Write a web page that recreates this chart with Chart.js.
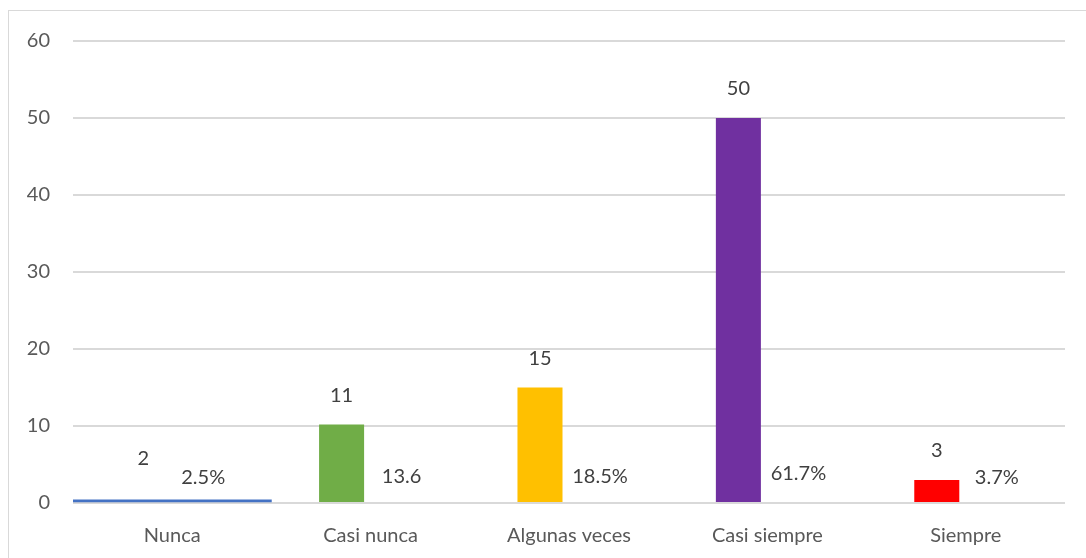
<!DOCTYPE html>
<html>
<head>
<meta charset="utf-8">
<script src="https://cdn.jsdelivr.net/npm/chart.js@4"></script>
<style>
  body { margin: 0; background: #fff; overflow: hidden; }
  #frame { position: absolute; left: 8px; top: 10px; width: 1100px; height: 560px; border: 1px solid #d9d9d9; }
  #wrap { position: absolute; left: 0; top: 0; width: 1086px; height: 558px; }
</style>
</head>
<body>
<div id="frame"></div>
<div id="wrap"><canvas id="canvas-chart" width="1086" height="558"></canvas></div>
<script>
const categories = ["Nunca", "Casi nunca", "Algunas veces", "Casi siempre", "Siempre"];
const counts = [2, 10.2, 15, 50, 3];
const countLabels = ["2", "11", "15", "50", "3"];
const countColors = ["rgba(0,0,0,0)", "#70AD47", "#FFC000", "#7030A0", "#FF0000"];
const shares = [0.025, 0.136, 0.185, 0.617, 0.037];
const shareLabels = ["2.5%", "13.6", "18.5%", "61.7%", "3.7%"];
const baseLine = [0.4, null, null, null, null];
const yTicks = [0, 10, 20, 30, 40, 50, 60];

const FONT = "Lato, 'Open Sans', sans-serif";

const labelPlugin = {
    id: "barLabels",
    afterDatasetsDraw(chart) {
        const ctx = chart.ctx;
        ctx.save();
        ctx.font = "20px " + FONT;
        ctx.fillStyle = "#404040";
        ctx.textAlign = "center";
        ctx.textBaseline = "middle";
        chart.getDatasetMeta(0).data.forEach((bar, i) => {
            ctx.fillText(countLabels[i], bar.x, bar.y - 29);
        });
        chart.getDatasetMeta(1).data.forEach((bar, i) => {
            ctx.fillText(shareLabels[i], bar.x + 2, bar.y - 25);
        });
        ctx.restore();
    }
};

const chart = new Chart(document.getElementById("canvas-chart"), {
    type: "bar",
    data: {
        labels: categories,
        datasets: [
            {
                label: "Frecuencia",
                data: counts,
                backgroundColor: countColors,
                categoryPercentage: 0.585,
                barPercentage: 0.776,
            },
            {
                label: "Porcentaje",
                data: shares,
                backgroundColor: "rgba(0,0,0,0)",
                categoryPercentage: 0.585,
                barPercentage: 0.776,
            },
            {
                label: "Nunca",
                data: baseLine,
                backgroundColor: "#4472C4",
                grouped: false,
                categoryPercentage: 1,
                barPercentage: 1,
            },
        ],
    },
    options: {
        responsive: false,
        animation: false,
        layout: { padding: { top: 41, right: 21, bottom: 0, left: 0 } },
        plugins: {
            legend: { display: false },
            tooltip: { enabled: false },
        },
        scales: {
            y: {
                min: 0,
                max: 60,
                afterBuildTicks: (axis) => { axis.ticks = yTicks.map(v => ({ value: v })); },
                afterFit: (axis) => { axis.width = 73; },
                border: { display: false },
                grid: { color: "#d9d9d9", lineWidth: 2, drawTicks: false },
                ticks: { color: "#595959", font: { size: 20, family: FONT }, padding: 23 },
            },
            x: {
                afterFit: (axis) => { axis.height = 55; },
                border: { display: false },
                grid: { display: false, drawTicks: false },
                ticks: { color: "#595959", font: { size: 20, family: FONT }, padding: 21 },
            },
        },
    },
    plugins: [labelPlugin],
});
</script>
</body>
</html>
